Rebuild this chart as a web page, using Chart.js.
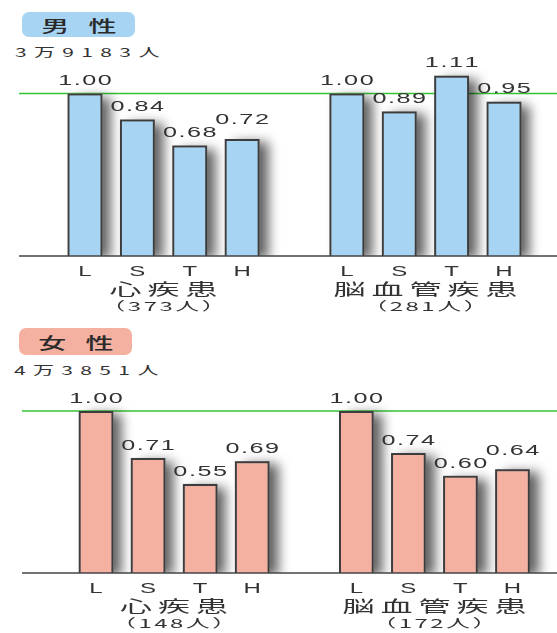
<!DOCTYPE html>
<html lang="ja">
<head>
<meta charset="utf-8">
<script src="https://cdn.jsdelivr.net/npm/chart.js@4.4.1/dist/chart.umd.min.js"></script>
<style>
  html, body { margin: 0; padding: 0; background: #fff; }
  #wrap { position: relative; width: 557px; height: 633px; overflow: hidden;
          font-family: "Noto Sans CJK JP", sans-serif; color: #333; }
  .badge { position: absolute; border-radius: 7px; }
  .badge span { position: absolute; left: 50%; top: 50%; font-size: 16px; font-weight: 500;
                letter-spacing: 11px; padding-left: 11px; white-space: nowrap; line-height: 18px;
                color: #2a2a2a; transform: translate(-50%, -50%) scaleX(1.75); }
  .total { position: absolute; font-size: 12px; line-height: 14px; white-space: nowrap;
           letter-spacing: 4.2px; transform-origin: left center; transform: scaleX(1.75); }
  canvas { position: absolute; left: 0; }
</style>
</head>
<body>
<div id="wrap">
  <div class="badge" id="badgeM" style="left:22px;top:12px;width:113px;height:25px;background:#a6d4f2"><span id="titleM"></span></div>
  <div class="total" id="totalM" style="left:15px;top:45px"></div>
  <canvas id="male" width="557" height="320" style="top:0"></canvas>

  <div class="badge" id="badgeF" style="left:19px;top:328px;width:113px;height:27px;background:#f4b0a0"><span id="titleF"></span></div>
  <div class="total" id="totalF" style="left:14px;top:363px"></div>
  <canvas id="female" width="557" height="313" style="top:320px"></canvas>
</div>
<script>
// Relative risk by category (L / S / T / H) for two disease groups
const categories = ['L', 'S', 'T', 'H', '', 'L', 'S', 'T', 'H'];
const groupNames = ['心疾患', '脳血管疾患'];

const maleTitle = '男性';
const maleTotal = '3万9183人';
const maleCases = [373, 281];
const maleValues = [1.00, 0.84, 0.68, 0.72, null, 1.00, 0.89, 1.11, 0.95];

const femaleTitle = '女性';
const femaleTotal = '4万3851人';
const femaleCases = [148, 172];
const femaleValues = [1.00, 0.71, 0.55, 0.69, null, 1.00, 0.74, 0.60, 0.64];

document.getElementById('titleM').textContent = maleTitle;
document.getElementById('totalM').textContent = maleTotal;
document.getElementById('titleF').textContent = femaleTitle;
document.getElementById('totalF').textContent = femaleTotal;

// Draws text character by character, stretched horizontally, centred on (cx, cy)
function stretchText(ctx, text, cx, cy, font, sx, gap, color) {
  ctx.save();
  ctx.font = font;
  ctx.fillStyle = color;
  ctx.textBaseline = 'middle';
  ctx.textAlign = 'left';
  const chars = Array.from(text);
  const widths = chars.map(c => ctx.measureText(c).width * sx);
  const total = widths.reduce((a, b) => a + b, 0) + gap * (chars.length - 1);
  let x = cx - total / 2;
  chars.forEach((c, i) => {
    ctx.save();
    ctx.translate(x, cy);
    ctx.scale(sx, 1);
    ctx.fillText(c, 0, 0);
    ctx.restore();
    x += widths[i] + gap;
  });
  ctx.restore();
  return total;
}

function textWidth(ctx, text, font, sx, gap) {
  ctx.save();
  ctx.font = font;
  const w = Array.from(text).reduce((a, c) => a + ctx.measureText(c).width * sx, 0) + gap * (text.length - 1);
  ctx.restore();
  return w;
}

// Reference line at 1.00, soft bar shadows, baseline
const decorations = {
  id: 'decorations',
  beforeDatasetsDraw(chart, args, opts) {
    const { ctx, chartArea, scales: { y } } = chart;
    const y1 = y.getPixelForValue(1);
    ctx.save();
    ctx.strokeStyle = '#33c233';
    ctx.lineWidth = 1.3;
    ctx.beginPath();
    ctx.moveTo(opts.lineStart, y1);
    ctx.lineTo(chart.width, y1);
    ctx.stroke();
    ctx.restore();

    // shadows cast to the right of each bar
    const meta = chart.getDatasetMeta(0);
    ctx.save();
    ctx.beginPath();
    ctx.rect(0, chartArea.top - 20, chart.width, chartArea.bottom - chartArea.top + 20);
    ctx.clip();
    ctx.shadowColor = 'rgba(0,0,0,0.62)';
    ctx.shadowBlur = 11;
    ctx.shadowOffsetX = 9;
    ctx.shadowOffsetY = 3;
    ctx.fillStyle = '#777';
    meta.data.forEach((bar, i) => {
      if (chart.data.datasets[0].data[i] == null) return;
      const w = bar.width;
      ctx.fillRect(bar.x - w / 2, bar.y, w, bar.base - bar.y);
    });
    ctx.restore();
  },
  afterDatasetsDraw(chart, args, opts) {
    const { ctx, scales: { y } } = chart;
    const y0 = y.getPixelForValue(0);
    ctx.save();
    ctx.strokeStyle = '#444';
    ctx.lineWidth = 1.5;
    ctx.beginPath();
    ctx.moveTo(opts.lineStart, y0);
    ctx.lineTo(chart.width, y0);
    ctx.stroke();
    ctx.restore();
  }
};

// Value labels, category letters and group captions
const annotations = {
  id: 'annotations',
  afterDraw(chart, args, opts) {
    const { ctx, scales: { x, y } } = chart;
    const values = chart.data.datasets[0].data;
    const meta = chart.getDatasetMeta(0);
    const base = y.getPixelForValue(0);
    const numFont = '14px "Liberation Sans"';
    const numSx = 1.8, numGap = 1.5;
    let prev = null;
    meta.data.forEach((bar, i) => {
      const v = values[i];
      if (v == null) { prev = null; return; }
      const text = v.toFixed(2);
      let cy = bar.y - 12;
      const w = textWidth(ctx, text, numFont, numSx, numGap);
      const box = { l: bar.x - w / 2, r: bar.x + w / 2 };
      if (prev && box.l < prev.r && Math.abs(cy - prev.y) < 12) cy = prev.y - 13;
      stretchText(ctx, text, bar.x, cy, numFont, numSx, numGap, '#333');
      prev = { r: box.r, y: cy };
    });

    chart.data.labels.forEach((lab, i) => {
      if (!lab) return;
      stretchText(ctx, lab, x.getPixelForValue(i), base + 16, '15px "Liberation Sans"', 1.6, 0, '#333');
    });

    [[0, 3], [5, 8]].forEach(([a, b], g) => {
      const cx = (x.getPixelForValue(a) + x.getPixelForValue(b)) / 2;
      stretchText(ctx, groupNames[g], cx, base + 33, '16px "Noto Sans CJK JP"', 2.0, 6, '#333');
      stretchText(ctx, '（' + opts.cases[g] + '人）', cx, base + 50, '12px "Noto Sans CJK JP"', 2.0, 2.5, '#333');
    });
  }
};

function makeChart(id, values, cases, fill, padding, lineStart) {
  return new Chart(document.getElementById(id), {
    type: 'bar',
    data: {
      labels: categories,
      datasets: [{
        data: values,
        backgroundColor: fill,
        borderColor: '#3d3d3d',
        borderWidth: 2,
        barPercentage: 0.665,
        categoryPercentage: 1
      }]
    },
    options: {
      responsive: false,
      animation: false,
      events: [],
      layout: { padding },
      plugins: {
        legend: { display: false },
        tooltip: { enabled: false },
        decorations: { lineStart },
        annotations: { cases }
      },
      scales: {
        x: { display: false, offset: true },
        y: { display: false, min: 0, max: 1.2 }
      }
    },
    plugins: [decorations, annotations]
  });
}

makeChart('male', maleValues, maleCases, '#a6d4f2',
  { left: 58.8, right: 26.8, top: 61, bottom: 64 }, 19);
makeChart('female', femaleValues, femaleCases, '#f4b1a2',
  { left: 70, right: 18.5, top: 58.6, bottom: 60 }, 22);
</script>
</body>
</html>
